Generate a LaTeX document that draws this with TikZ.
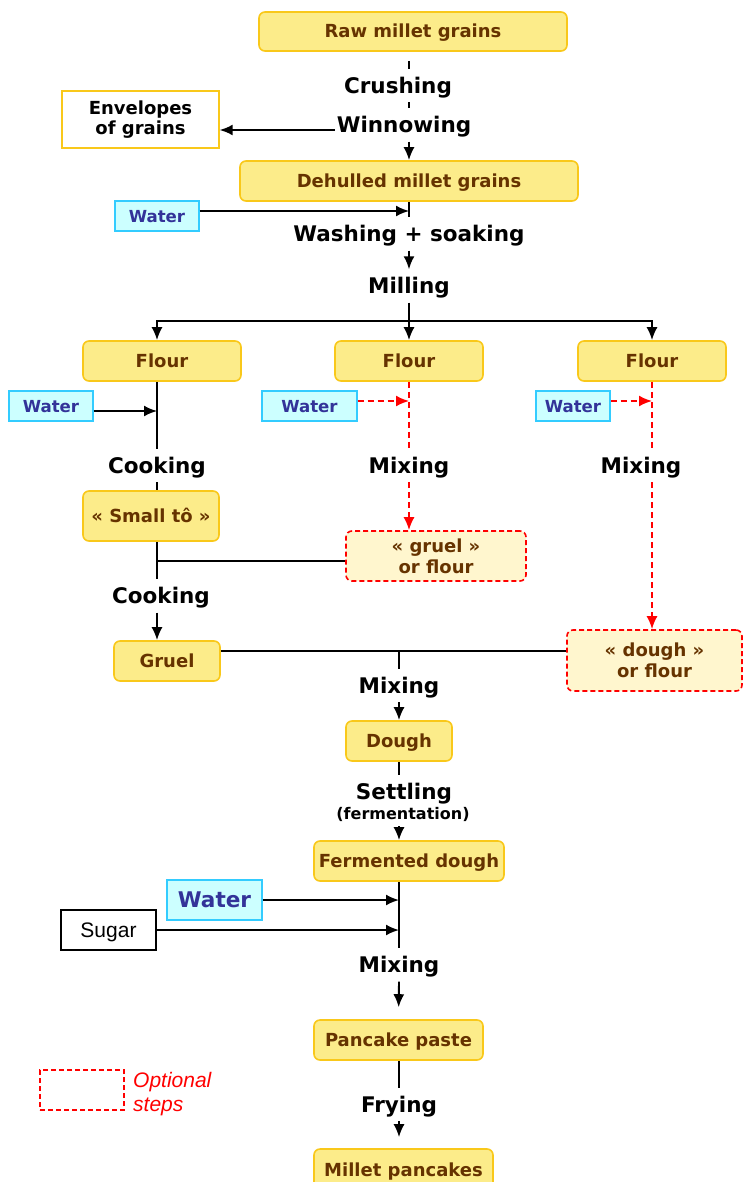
\documentclass[tikz,border=0pt]{standalone}
\usepackage{fontspec}
\setmainfont{DejaVu Sans}
\newfontfamily\arialfont{Liberation Sans}
\usetikzlibrary{arrows.meta}

\definecolor{boxfill}{HTML}{FCEC8A}
\definecolor{boxline}{HTML}{F9C81A}
\definecolor{boxtext}{HTML}{663300}
\definecolor{optfill}{HTML}{FFF6CE}
\definecolor{optred}{HTML}{FF0000}
\definecolor{waterfill}{HTML}{CCFFFF}
\definecolor{waterline}{HTML}{33CCFF}
\definecolor{watertext}{HTML}{333399}

\tikzset{
  sz/.style 2 args={minimum width=#1pt, minimum height=#2pt},
  product/.style={rounded corners=6pt, draw=boxline, fill=boxfill, line width=1.6pt,
    text=boxtext, font=\bfseries\fontsize{18}{21}\selectfont, align=center,
    inner sep=0pt, text height=13.5pt, text depth=0.5pt},
  twoline/.style={text height=, text depth=},
  optbox/.style={product, twoline, draw=optred, fill=optfill, dash pattern=on 5pt off 3pt},
  waterbox/.style={draw=waterline, fill=waterfill, line width=1.4pt, text=watertext,
    font=\bfseries\fontsize{16.6}{20}\selectfont, inner sep=0pt, text height=12.1pt, text depth=0pt},
  bigwater/.style={waterbox, font=\bfseries\fontsize{21.6}{24}\selectfont, text height=15.8pt},
  plainbox/.style={draw=black, fill=white, line width=1.4pt, inner sep=0pt,
    font=\arialfont\fontsize{21}{24}\selectfont, text height=15pt, text depth=0pt},
  wastebox/.style={draw=boxline, fill=white, line width=1.4pt, inner sep=0pt, align=center,
    font=\bfseries\fontsize{18}{20}\selectfont},
  stepl/.style={font=\bfseries\fontsize{21.5}{24}\selectfont, text height=16pt, text depth=0.3pt,
    inner xsep=2pt, inner ysep=8.35pt},
  subl/.style={font=\bfseries\fontsize{16}{18}\selectfont, text height=11.7pt, text depth=0pt,
    inner xsep=2pt, inner ysep=6.15pt},
  link/.style={line width=1.9pt, black},
  arr/.style={-{Latex[length=13pt,width=11pt]}},
  optline/.style={line width=1.9pt, optred, dash pattern=on 6pt off 4pt},
}

\begin{document}
\begin{tikzpicture}[x=1pt, y=-1pt]
\useasboundingbox (0,0) rectangle (743,1182);

% vertical spines of the flow
\coordinate (cL) at (157,0);
\coordinate (cM) at (409,0);
\coordinate (cR) at (652,0);
\coordinate (cB) at (399,0);
\coordinate (br) at (409,321);

% products
\node[product, sz={308}{39}] (raw) at (413,31.5) {Raw millet grains};
\node[product, sz={338}{40}] (dehulled) at (409,181) {Dehulled millet grains};
\node[product, sz={158}{40}] (flourL) at (162,361) {Flour};
\node[product, sz={148}{40}] (flourM) at (409,361) {Flour};
\node[product, sz={148}{40}] (flourR) at (652,361) {Flour};
\node[product, sz={136}{50}] (smallto) at (151,516) {« Small tô »};
\node[optbox, sz={180}{50}] (gorf) at (436,556) {« gruel »\\or flour};
\node[product, sz={106}{40}] (gruel) at (167,661) {Gruel};
\node[optbox, sz={175}{61}] (dorf) at (654.5,660.5) {« dough »\\or flour};
\node[product, sz={106}{40}] (dough) at (399,741) {Dough};
\node[product, sz={190}{40}] (fdough) at (409,861) {Fermented dough};
\node[product, sz={169}{40}] (paste) at (398.5,1040) {Pancake paste};
\node[product, sz={179}{41}] (pancakes) at (403.5,1169.5) {Millet pancakes};

% by-product and inputs
\node[wastebox, sz={157}{57}] (env) at (140.5,119.5) {Envelopes\\of grains};
\node[waterbox, sz={84}{30}] (water1) at (157,216) {Water};
\node[waterbox, sz={84}{30}] (waterL) at (51,406) {Water};
\node[waterbox, sz={95}{30}] (waterM) at (309.5,406) {Water};
\node[waterbox, sz={74}{30}] (waterR) at (573,406) {Water};
\node[bigwater, sz={95}{40}] (waterB) at (214.5,900) {Water};
\node[plainbox, sz={95}{40}] (sugar) at (108.5,930) {Sugar};

% operations
\node[stepl] (crush) at (398,85.5) {Crushing};
\node[stepl] (winnow) at (404,125) {Winnowing};
\node[stepl] (wash) at (409,234) {Washing + soaking};
\node[stepl] (milling) at (409,286) {Milling};
\node[stepl] (cook1) at (157,465.5) {Cooking};
\node[stepl] (mixM) at (409,465.5) {Mixing};
\node[stepl] (mixR) at (641,465.5) {Mixing};
\node[stepl] (cook2) at (161,596) {Cooking};
\node[stepl] (mix3) at (399,685.5) {Mixing};
\node[stepl] (settle) at (404,792) {Settling};
\node[subl] (ferm) at (403,814) {(fermentation)};
\node[stepl] (mix4) at (399,965) {Mixing};
\node[stepl] (fry) at (399,1104.5) {Frying};

% main line: grains to flour
\draw[link, shorten <=9pt] (raw.south -| cM) -- (crush.north -| cM);
\draw[link] (crush.south -| cM) -- (winnow.north -| cM);
\draw[link, arr] ([yshift=-5pt]winnow.west) -- ([yshift=-5pt]winnow.west -| env.east);
\draw[link, arr] (winnow.south -| cM) -- (dehulled.north);
\draw[link] (dehulled.south) -- (wash.north);
\draw[link, arr] ([yshift=5pt]water1.east) -- ([yshift=5pt]water1.east -| cM);
\draw[link, arr] (wash.south) -- (milling.north);
\draw[link, arr] (milling.south) -- (flourM.north);
\draw[link, arr] (br) -| (flourL.north -| cL);
\draw[link, arr] (br) -| (flourR.north);

% left branch: small tô and gruel
\draw[link] (flourL.south -| cL) -- (cook1.north);
\draw[link, arr] ([yshift=-5pt]waterL.east) -- ([yshift=-5pt]waterL.east -| cL);
\draw[link] (cook1.south) -- (smallto.north -| cL);
\draw[link] (smallto.south -| cL) -- (cook2.north -| cL);
\draw[link] ([yshift=-5pt]gorf.west) -- ([yshift=-5pt]gorf.west -| cL);
\draw[link, arr] (cook2.south -| cL) -- (gruel.north -| cL);

% optional branches
\draw[optline] (flourM.south) -- (mixM.north);
\draw[optline, arr] ([yshift=5pt]waterM.east) -- ([yshift=5pt]waterM.east -| cM);
\draw[optline, arr] (mixM.south) -- (gorf.north -| cM);
\draw[optline] (flourR.south) -- (mixR.north -| cR);
\draw[optline, arr] ([yshift=5pt]waterR.east) -- ([yshift=5pt]waterR.east -| cR);
\draw[optline, arr] (mixR.south -| cR) -- (dorf.north -| cR);

% dough and pancakes
\draw[link] ([yshift=10pt]gruel.east) -- ([yshift=10pt]gruel.east -| dorf.west);
\draw[link] ([yshift=10pt]gruel.east -| cB) -- (mix3.north);
\draw[link, arr] (mix3.south) -- (dough.north);
\draw[link] (dough.south) -- (settle.north -| cB);
\draw[link, arr] (ferm.south -| cB) -- (fdough.north -| cB);
\draw[link] (fdough.south -| cB) -- (mix4.north);
\draw[link, arr] (waterB.east) -- (waterB.east -| cB);
\draw[link, arr] (sugar.east) -- (sugar.east -| cB);
\draw[link, arr, shorten >=12pt] (mix4.south) -- (paste.north);
\draw[link] (paste.south -| cB) -- (fry.north);
\draw[link, arr, shorten >=11pt] (fry.south) -- (pancakes.north -| cB);

% legend
\node[draw=optred, line width=1.4pt, dash pattern=on 5pt off 3pt, sz={84}{40}] (legbox) at (82,1090) {};
\node[anchor=west, align=left, text=optred, inner sep=0pt,
  font=\arialfont\itshape\fontsize{21}{24}\selectfont] (legtext) at (133,1094) {Optional\\steps};
\end{tikzpicture}
\end{document}
